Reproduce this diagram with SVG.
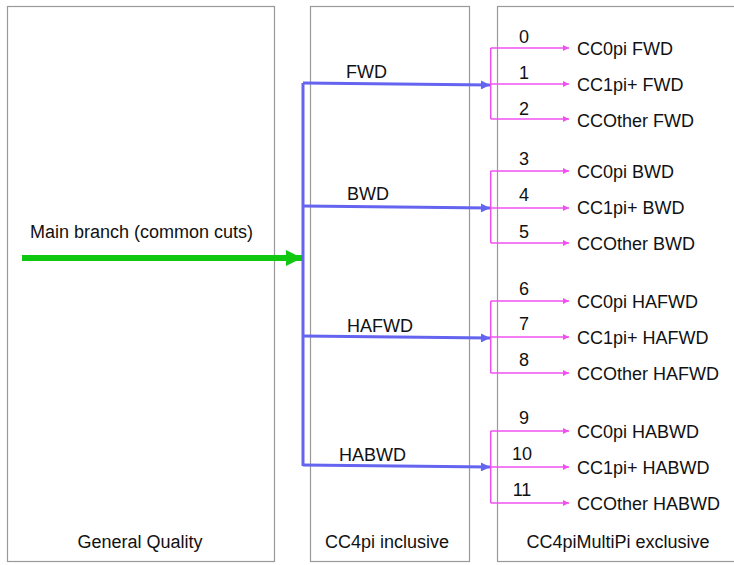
<svg xmlns="http://www.w3.org/2000/svg" width="734" height="565" viewBox="0 0 734 565">
<style>
text{font-family:"Liberation Sans",Arial,sans-serif;font-size:18px;fill:#111}
.box{fill:#fff;stroke:#999;stroke-width:1.2}
.blue{stroke:#6464f0;stroke-width:3;fill:none}
.mag{stroke:#f050f0;stroke-width:1.5;fill:none}
.num{text-anchor:middle}
.mid{text-anchor:middle}
</style>
<defs>
<marker id="ab" viewBox="0 0 10 10" refX="10" refY="5" markerWidth="4" markerHeight="3" markerUnits="strokeWidth" orient="auto"><path d="M0,0L10,5L0,10z" fill="#6464f0"/></marker>
<marker id="am" viewBox="0 0 10 10" refX="10" refY="5" markerWidth="5" markerHeight="4" markerUnits="strokeWidth" orient="auto"><path d="M0,0L10,5L0,10z" fill="#f050f0"/></marker>
<marker id="ag" viewBox="0 0 10 10" refX="10" refY="5" markerWidth="2.7" markerHeight="2.7" markerUnits="strokeWidth" orient="auto"><path d="M0,0L10,5L0,10z" fill="#11c811"/></marker>
</defs>
<g id="general"><rect class="box" x="7.5" y="6.5" width="267" height="555"/><text class="mid" x="140" y="548">General Quality</text><text x="30" y="238">Main branch (common cuts)</text></g>
<g id="cc4pi"><rect class="box" x="310.5" y="6.5" width="159" height="555"/><text class="mid" x="387" y="548">CC4pi inclusive</text></g>
<g id="multipi"><rect class="box" x="497.5" y="6.5" width="250" height="555"/><text class="mid" x="618" y="548">CC4piMultiPi exclusive</text></g>
<g id="connectors">
<line x1="22" y1="258" x2="302" y2="258" stroke="#11c811" stroke-width="6" marker-end="url(#ag)"/>
<path class="blue" d="M303,83V466"/>
<path class="blue" d="M303,83L490,85" marker-end="url(#ab)"/>
<path class="blue" d="M303,206L490,208" marker-end="url(#ab)"/>
<path class="blue" d="M303,336L490,338" marker-end="url(#ab)"/>
<path class="blue" d="M303,465L490,467" marker-end="url(#ab)"/>
<path class="mag" d="M490.7,48V119"/><path class="mag" d="M490.7,48H569" marker-end="url(#am)"/><path class="mag" d="M490.7,84H569" marker-end="url(#am)"/><path class="mag" d="M490.7,119H569" marker-end="url(#am)"/>
<path class="mag" d="M490.7,171V243"/><path class="mag" d="M490.7,171H569" marker-end="url(#am)"/><path class="mag" d="M490.7,208H569" marker-end="url(#am)"/><path class="mag" d="M490.7,243H569" marker-end="url(#am)"/>
<path class="mag" d="M490.7,301V373"/><path class="mag" d="M490.7,301H569" marker-end="url(#am)"/><path class="mag" d="M490.7,337H569" marker-end="url(#am)"/><path class="mag" d="M490.7,373H569" marker-end="url(#am)"/>
<path class="mag" d="M490.7,431V503"/><path class="mag" d="M490.7,431H569" marker-end="url(#am)"/><path class="mag" d="M490.7,467H569" marker-end="url(#am)"/><path class="mag" d="M490.7,503H569" marker-end="url(#am)"/>
<text x="346" y="78">FWD</text><text x="347" y="200">BWD</text><text x="347" y="332">HAFWD</text><text x="339" y="461">HABWD</text>
<text class="num" x="524" y="43">0</text><text class="num" x="524" y="79">1</text><text class="num" x="524" y="115">2</text>
<text class="num" x="524" y="165">3</text><text class="num" x="524" y="201">4</text><text class="num" x="524" y="238">5</text>
<text class="num" x="524" y="295">6</text><text class="num" x="524" y="330">7</text><text class="num" x="524" y="366">8</text>
<text class="num" x="524" y="424">9</text><text class="num" x="522" y="460">10</text><text class="num" x="522" y="496">11</text>
</g>
<g id="leaves">
<text x="577" y="55">CC0pi FWD</text><text x="577" y="91">CC1pi+ FWD</text><text x="577" y="127">CCOther FWD</text>
<text x="577" y="178">CC0pi BWD</text><text x="577" y="214">CC1pi+ BWD</text><text x="577" y="250">CCOther BWD</text>
<text x="577" y="308">CC0pi HAFWD</text><text x="577" y="344">CC1pi+ HAFWD</text><text x="577" y="380">CCOther HAFWD</text>
<text x="577" y="438">CC0pi HABWD</text><text x="577" y="474">CC1pi+ HABWD</text><text x="577" y="510">CCOther HABWD</text>
</g>
</svg>
